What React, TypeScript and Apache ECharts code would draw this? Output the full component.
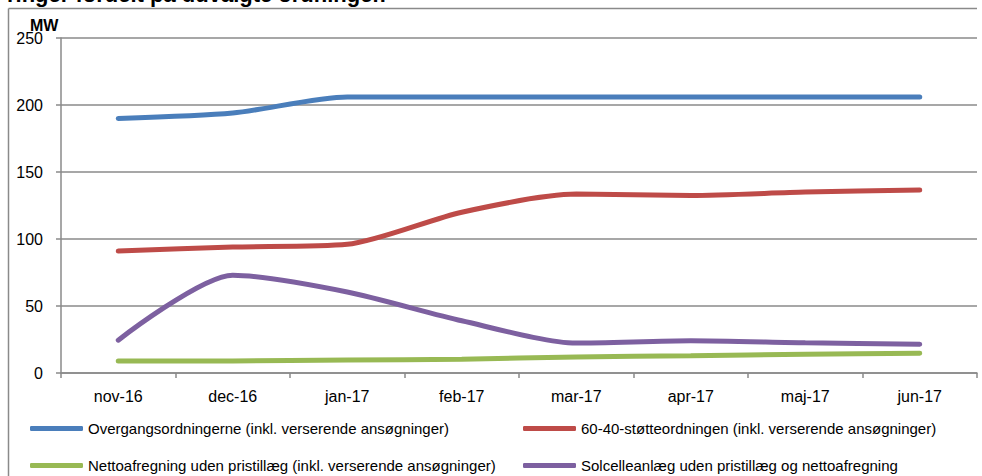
import React, { useEffect, useRef } from "react";
import * as echarts from "echarts";

const categories = ["nov-16", "dec-16", "jan-17", "feb-17", "mar-17", "apr-17", "maj-17", "jun-17"];
const overgang = [190, 194, 206, 206, 206, 206, 206, 206];
const stoette6040 = [91, 94, 96, 120, 133.5, 132.5, 135, 136.5];
const netto = [9, 9, 9.7, 10.3, 12, 12.8, 14, 14.8];
const solcelle = [24.5, 73, 60.5, 39, 22.3, 24, 22.5, 21.5];
const seriesNames = [
  "Overgangsordningerne (inkl. verserende ansøgninger)",
  "60-40-støtteordningen (inkl. verserende ansøgninger)",
  "Nettoafregning uden pristillæg (inkl. verserende ansøgninger)",
  "Solcelleanlæg uden pristillæg og nettoafregning",
];
const colors = ["#4a7ebb", "#be4b48", "#98b954", "#7d60a0"];
const titleText = "ringer fordelt på udvalgte ordninger.";
const unitText = "MW";

const FONT = "'Liberation Sans', Arial, sans-serif";
const GRAY = "#8a8a8a";

export default function App() {
  const ref = useRef<HTMLDivElement>(null);
  useEffect(() => {
    if (!ref.current) return;
    const chart = echarts.init(ref.current, undefined, { renderer: "svg" });
    const data = [overgang, stoette6040, netto, solcelle];
    const legendPos = [
      { left: 30, top: 421 },
      { left: 523, top: 421 },
      { left: 30, top: 458 },
      { left: 523, top: 458 },
    ];
    chart.setOption({
      animation: false,
      textStyle: { fontFamily: FONT },
      grid: { left: 61, right: 5, top: 38, bottom: 103, containLabel: false },
      legend: seriesNames.map((n, i) => ({
        data: [n],
        left: legendPos[i].left,
        top: legendPos[i].top,
        padding: 0,
        itemWidth: 53,
        itemHeight: 5,
        itemGap: 4,
        icon: "roundRect",
        selectedMode: false,
        textStyle: { fontSize: 15, color: "#000", fontFamily: FONT, padding: [0, 0, 0, 0] },
      })),
      xAxis: {
        type: "category",
        data: categories,
        boundaryGap: true,
        axisLine: { lineStyle: { color: GRAY, width: 1.5 } },
        axisTick: { show: true, length: 5, lineStyle: { color: GRAY, width: 1.5 } },
        axisLabel: { color: "#000", fontSize: 16, margin: 15, fontFamily: FONT },
        splitLine: { show: false },
      },
      yAxis: {
        type: "value",
        min: 0,
        max: 250,
        interval: 50,
        axisLine: { show: true, lineStyle: { color: GRAY, width: 1.5 } },
        axisTick: { show: true, length: 5, lineStyle: { color: GRAY, width: 1.5 } },
        axisLabel: { color: "#000", fontSize: 16, margin: 18, fontFamily: FONT },
        splitLine: { show: true, lineStyle: { color: GRAY, width: 1.5 } },
      },
      graphic: [
        {
          type: "line",
          shape: { x1: 8.5, y1: 8.5, x2: 8.5, y2: 476 },
          style: { stroke: GRAY, lineWidth: 1.5 },
          silent: true,
        },
        {
          type: "line",
          shape: { x1: 8.5, y1: 8.5, x2: 977, y2: 8.5 },
          style: { stroke: GRAY, lineWidth: 1.5 },
          silent: true,
        },
        {
          type: "text",
          left: 7,
          top: -17,
          style: { text: titleText, font: `bold 22px ${FONT}`, fill: "#000" },
          silent: true,
        },
        {
          type: "text",
          left: 30,
          top: 17,
          style: { text: unitText, font: `bold 16px ${FONT}`, fill: "#000" },
          silent: true,
        },
      ],
      series: data.map((d, i) => ({
        name: seriesNames[i],
        type: "line",
        data: d,
        smooth: 0.25,
        symbol: "none",
        lineStyle: { color: colors[i], width: 5, cap: "round" },
        itemStyle: { color: colors[i] },
      })),
    });
    return () => chart.dispose();
  }, []);
  return (
    <div
      ref={ref}
      style={{ position: "fixed", left: 0, top: 0, width: 982, height: 476, background: "#fff" }}
    />
  );
}
